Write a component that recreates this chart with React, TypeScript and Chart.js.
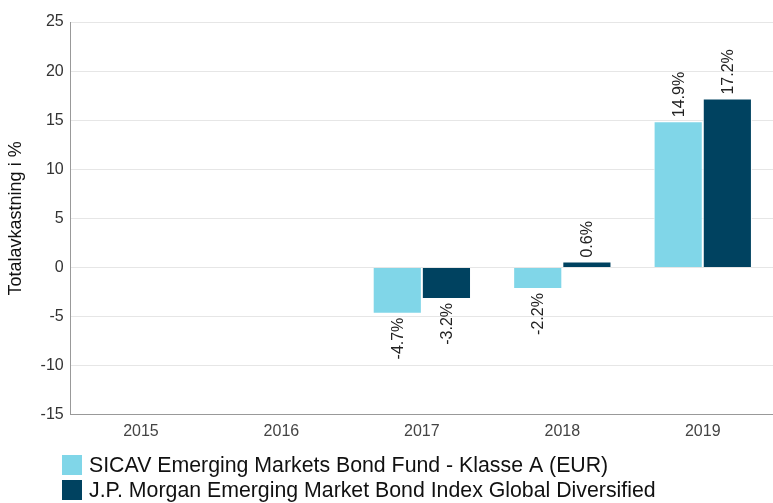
import React, { useEffect, useRef } from "react";
import { Chart, registerables } from "chart.js";

Chart.register(...registerables);

const categories = ["2015", "2016", "2017", "2018", "2019"];
const fundLabel = "SICAV Emerging Markets Bond Fund - Klasse A (EUR)";
const indexLabel = "J.P. Morgan Emerging Market Bond Index Global Diversified";
const fundValues: (number | null)[] = [null, null, -4.7, -2.2, 14.9];
const indexValues: (number | null)[] = [null, null, -3.2, 0.6, 17.2];
const fundColor = "#80D6E8";
const indexColor = "#004260";
const yTitle = "Totalavkastning i %";

const FONT = "'Liberation Sans', Arial, Helvetica, sans-serif";

const valueLabels = {
  id: "valueLabels",
  afterDatasetsDraw(chart: any) {
    const ctx = chart.ctx;
    ctx.save();
    ctx.font = `16px ${FONT}`;
    ctx.fillStyle = "#222";
    ctx.textBaseline = "middle";
    chart.data.datasets.forEach((ds: any, di: number) => {
      const meta = chart.getDatasetMeta(di);
      meta.data.forEach((el: any, i: number) => {
        const v = ds.data[i];
        if (v === null || v === undefined) return;
        const text = v.toFixed(1) + "%";
        ctx.save();
        if (v >= 0) {
          ctx.translate(el.x, el.y - 4);
          ctx.rotate(-Math.PI / 2);
          ctx.textAlign = "left";
        } else {
          ctx.translate(el.x, el.y + 4);
          ctx.rotate(-Math.PI / 2);
          ctx.textAlign = "right";
        }
        ctx.fillText(text, 0, 1);
        ctx.restore();
      });
    });
    ctx.restore();
  },
};

// Legend drawn from the datasets, stacked rows at the bottom left
const bottomLegend = {
  id: "bottomLegend",
  afterDraw(chart: any) {
    const ctx = chart.ctx;
    ctx.save();
    ctx.font = `21.3px ${FONT}`;
    ctx.textBaseline = "middle";
    ctx.textAlign = "left";
    const boxX = 62;
    const box = 20;
    const firstY = 465;
    const rowGap = 25;
    chart.data.datasets.forEach((ds: any, i: number) => {
      const cy = firstY + i * rowGap;
      ctx.fillStyle = ds.backgroundColor;
      ctx.fillRect(boxX, cy - box / 2, box, box);
      ctx.fillStyle = "#111";
      ctx.fillText(ds.label, boxX + box + 7, cy + 1);
    });
    ctx.restore();
  },
};

export default function App() {
  const ref = useRef<HTMLCanvasElement | null>(null);
  useEffect(() => {
    if (!ref.current) return;
    const chart = new Chart(ref.current, {
      type: "bar",
      data: {
        labels: categories,
        datasets: [
          {
            label: fundLabel,
            data: fundValues,
            backgroundColor: fundColor,
            borderColor: "#ffffff",
            borderWidth: 1,
            categoryPercentage: 0.7,
            barPercentage: 1,
          },
          {
            label: indexLabel,
            data: indexValues,
            backgroundColor: indexColor,
            borderColor: "#ffffff",
            borderWidth: 1,
            categoryPercentage: 0.7,
            barPercentage: 1,
          },
        ],
      },
      options: {
        animation: false,
        responsive: true,
        maintainAspectRatio: false,
        layout: { padding: { top: 22, right: 0, left: 4, bottom: 55 } },
        plugins: {
          tooltip: { enabled: false },
          legend: { display: false },
        },
        scales: {
          x: {
            grid: { display: false, drawTicks: false },
            border: { display: true, color: "#999" },
            ticks: { color: "#444", padding: 7, font: { family: FONT, size: 16 } },
          },
          y: {
            min: -15,
            max: 25,
            ticks: { stepSize: 5, color: "#333", padding: 7, font: { family: FONT, size: 16 } },
            grid: { color: "#e6e6e6", drawTicks: false },
            border: { display: true, color: "#999" },
            title: {
              display: true,
              text: yTitle,
              color: "#111",
              padding: { top: 1, bottom: 7 },
              font: { family: FONT, size: 18 },
            },
          },
        },
      },
      plugins: [valueLabels, bottomLegend],
    });
    return () => chart.destroy();
  }, []);
  return (
    <div style={{ position: "fixed", left: 0, top: 0, width: 773, height: 503 }}>
      <canvas ref={ref} />
    </div>
  );
}
